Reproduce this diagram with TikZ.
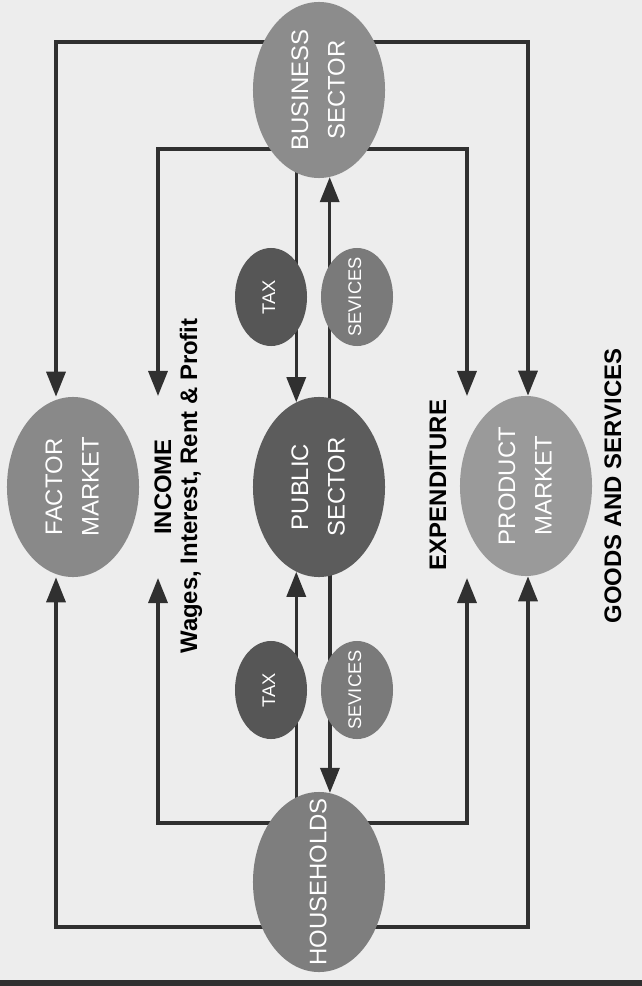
\documentclass[tikz,border=0pt]{standalone}
\usepackage{fontspec}
\setmainfont{Liberation Sans}
\usepackage{graphicx}
\usepackage{tikz}
\usetikzlibrary{shapes.geometric, arrows.meta, backgrounds}

\definecolor{paper}{HTML}{EDEDED}
\definecolor{ink}{HTML}{303030}
\definecolor{bsgray}{HTML}{8C8C8C}
\definecolor{fmgray}{HTML}{898989}
\definecolor{psgray}{HTML}{5C5C5C}
\definecolor{pmgray}{HTML}{9A9A9A}
\definecolor{hhgray}{HTML}{7E7E7E}
\definecolor{taxgray}{HTML}{565656}
\definecolor{servgray}{HTML}{7A7A7A}

\newcommand{\uptext}[1]{\rotatebox{90}{\makebox[0pt]{\begin{tabular}{@{}c@{}}#1\end{tabular}}}}

\begin{document}
\begin{tikzpicture}[x=0.025cm, y=-0.025cm,
    sector/.style={ellipse, text=white, inner sep=0pt, minimum width=3.3cm, minimum height=4.5cm, font=\fontsize{17}{26}\selectfont},
    small/.style={ellipse, text=white, inner sep=0pt, minimum width=1.8cm, minimum height=2.45cm, font=\fontsize{13}{15}\selectfont},
    flow/.style={draw=ink, line width=2.4pt, -{Triangle[length=0.625cm, width=0.475cm]}},
    caption/.style={rotate=90, font=\bfseries\fontsize{17}{20}\selectfont}]

    \begin{scope}[on background layer]
        \fill[paper] (0,0) rectangle (642,986);
    \end{scope}
    \fill[ink] (0,980) rectangle (642,986);

    % Sectors and markets
    \node[sector, fill=bsgray, minimum height=4.4cm] (business) at (319,90) {\uptext{BUSINESS\\SECTOR}};
    \node[sector, fill=fmgray] (factor) at (73,487) {\uptext{FACTOR\\MARKET}};
    \node[sector, fill=psgray] (public) at (319,487) {\uptext{PUBLIC\\SECTOR}};
    \node[sector, fill=pmgray] (product) at (526,486) {\uptext{PRODUCT\\MARKET}};
    \node[sector, fill=hhgray] (households) at (319,882) {\uptext{HOUSEHOLDS}};

    % Tax and services
    \node[small, fill=taxgray] (taxup) at (271,297) {\uptext{TAX}};
    \node[small, fill=servgray] (servup) at (357,297) {\uptext{SEVICES}};
    \node[small, fill=taxgray] (taxdown) at (271,690) {\uptext{TAX}};
    \node[small, fill=servgray] (servdown) at (357,690) {\uptext{SEVICES}};

    % Flow labels
    \node[caption] (income) at (163,487) {INCOME};
    \node[caption] (wages) at (191,486) {Wages, Interest, Rent \& Profit};
    \node[caption] (expenditure) at (438,485) {EXPENDITURE};
    \node[caption] (goods) at (613,486) {GOODS AND SERVICES};

    \coordinate (otl) at (56,42);
    \coordinate (otr) at (528,42);
    \coordinate (obl) at (56,927);
    \coordinate (obr) at (528,927);
    \coordinate (itl) at (158,149);
    \coordinate (itr) at (467,149);
    \coordinate (ibl) at (158,823);
    \coordinate (ibr) at (467,823);
    \coordinate (incometop) at (158,396);
    \coordinate (incomebot) at (158,578);
    \coordinate (exptop) at (467,396);
    \coordinate (expbot) at (467,578);

    \begin{scope}[on background layer]
        % outer loop
        \draw[flow] (business.center |- otl) -- (otl) -- (otl |- factor.north);
        \draw[flow] (business.center |- otr) -- (otr) -- (otr |- product.north);
        \draw[flow] (households.center |- obl) -- (obl) -- (obl |- factor.south);
        \draw[flow] (households.center |- obr) -- (obr) -- (obr |- product.south);
        % inner loop
        \draw[flow] (business.center |- itl) -- (itl) -- (incometop);
        \draw[flow] (business.center |- itr) -- (itr) -- (exptop);
        \draw[flow] (households.center |- ibl) -- (ibl) -- (incomebot);
        \draw[flow] (households.center |- ibr) -- (ibr) -- (expbot);
        % public sector
        \draw[flow] (business.center -| public.105) -- (public.105);
        \draw[flow] (public.center -| business.277) -- (business.277);
        \draw[flow] (households.center -| public.255) -- (public.255);
        \draw[flow] (public.center -| households.83) -- (households.83);
    \end{scope}
\end{tikzpicture}
\end{document}
